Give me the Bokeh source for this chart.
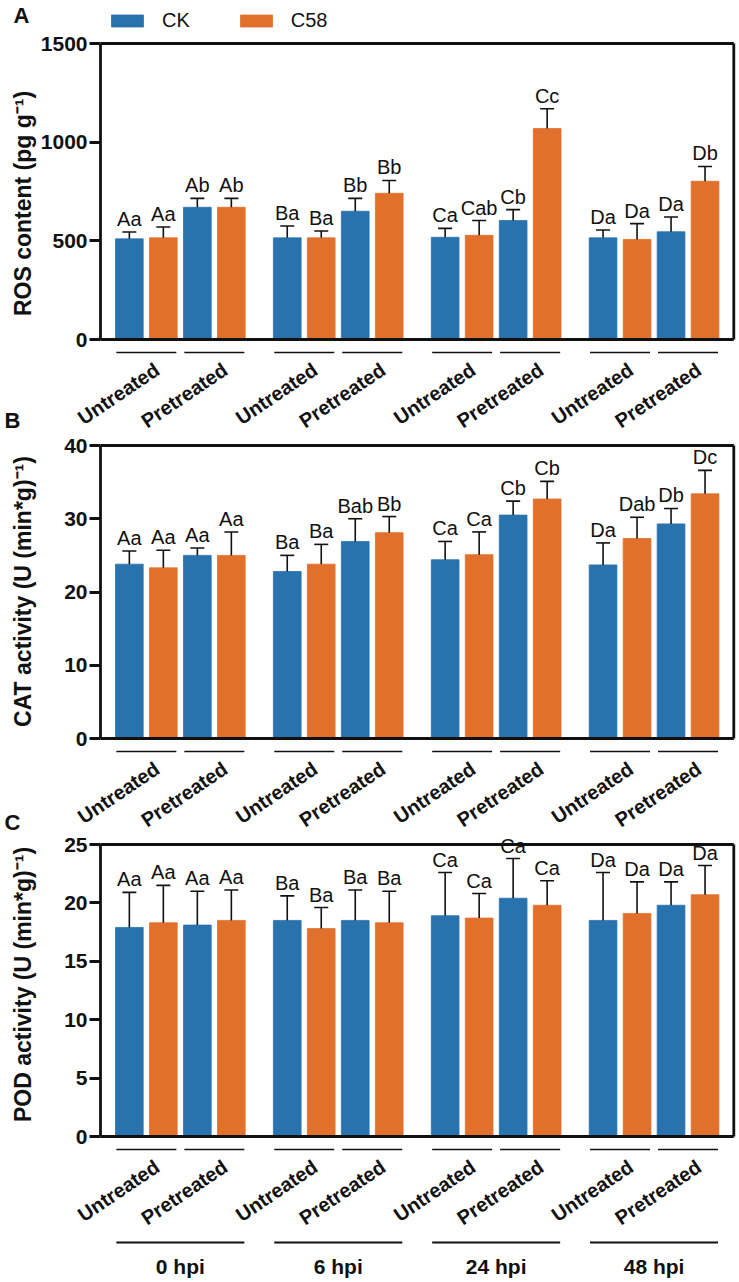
import numpy as np
from bokeh.plotting import figure
from bokeh.models import Range1d, FixedTicker, Legend, LegendItem
from bokeh.layouts import column
from bokeh.embed import file_html
from bokeh.resources import INLINE
from bokeh.core.properties import value

# ---------------- data ----------------
timepoints = ["0 hpi", "6 hpi", "24 hpi", "48 hpi"]
treatments = ["Untreated", "Pretreated"]
strains = ["CK", "C58"]

# order: for each timepoint -> Untreated(CK, C58), Pretreated(CK, C58)
ros_mean = [510, 515, 670, 670, 515, 515, 650, 741, 518, 528, 603, 1069, 515, 507, 546, 802]
ros_err = [35, 55, 45, 45, 60, 35, 65, 65, 45, 75, 55, 100, 40, 80, 75, 75]
ros_labels = ["Aa", "Aa", "Ab", "Ab", "Ba", "Ba", "Bb", "Bb",
              "Ca", "Cab", "Cb", "Cc", "Da", "Da", "Da", "Db"]

cat_mean = [23.8, 23.3, 25.0, 25.0, 22.8, 23.8, 26.9, 28.1,
            24.4, 25.1, 30.5, 32.7, 23.7, 27.3, 29.3, 33.4]
cat_err = [1.8, 2.4, 1.0, 3.2, 2.2, 2.7, 3.1, 2.2,
           2.5, 3.1, 1.9, 2.4, 3.0, 2.9, 2.1, 3.2]
cat_labels = ["Aa", "Aa", "Aa", "Aa", "Ba", "Ba", "Bab", "Bb",
              "Ca", "Ca", "Cb", "Cb", "Da", "Dab", "Db", "Dc"]

pod_mean = [17.9, 18.3, 18.1, 18.5, 18.5, 17.8, 18.5, 18.3,
            18.9, 18.7, 20.4, 19.8, 18.5, 19.1, 19.8, 20.7]
pod_err = [3.0, 3.2, 2.9, 2.6, 2.1, 1.8, 2.6, 2.7,
           3.7, 2.1, 3.4, 2.1, 4.1, 2.7, 2.0, 2.5]
pod_labels = ["Aa", "Aa", "Aa", "Aa", "Ba", "Ba", "Ba", "Ba",
              "Ca", "Ca", "Ca", "Ca", "Da", "Da", "Da", "Da"]

ros_ticks = [0, 500, 1000, 1500]
cat_ticks = [0, 10, 20, 30, 40]
pod_ticks = [0, 5, 10, 15, 20, 25]

# ---------------- style / layout ----------------
COL = {"CK": "#2872ae", "C58": "#e0702c"}
FONT = "Liberation Sans"
INK = "#111111"
FIG_W = 739
AX_X = 100                          # screen x of the y axis
PX = 34.0                           # px per x-unit (bar pitch)
X0 = (128.85 - AX_X) / PX           # first bar centre
GP = 157.9 / PX                     # group pitch
BW = 27.7 / PX                      # bar width
XR = (733.3 - AX_X) / PX            # right border
ANG = np.deg2rad(34)


def sx(px):
    return (px - AX_X) / PX


xs, pair_c, group_c = [], [], []
for g in range(len(timepoints)):
    gx = []
    for t in range(len(treatments)):
        pp = []
        for s in range(len(strains)):
            x = X0 + g * GP + (t * 2 + s) * 1.0
            xs.append(x); pp.append(x); gx.append(x)
        pair_c.append(sum(pp) / 2)
    group_c.append(sum(gx) / 4)
xs = np.array(xs)
is_ck = np.array([i % 2 == 0 for i in range(len(xs))])


def txt(p, x, y, t, size, bold=True, angle=0.0, align="center", baseline="middle"):
    p.text(x=x, y=y, text=t, angle=angle, text_align=align, text_baseline=baseline,
           text_font=value(FONT), text_font_style="bold" if bold else "normal",
           text_font_size=size, text_color=INK)


def panel(mean, err, labels, ticks, ytitle, fig_top, fig_bot, ytop_px, y0_px,
          title_c, show_hpi=False):
    ymax = ticks[-1]
    k = ymax / (y0_px - ytop_px)          # data units per px
    y_end = ymax + (ytop_px - fig_top) * k
    y_start = -(fig_bot - y0_px) * k

    def sy(py):
        return (y0_px - py) * k

    p = figure(width=FIG_W, height=fig_bot - fig_top, output_backend="svg",
               toolbar_location=None, x_axis_location=None,
               x_range=Range1d(sx(0), sx(FIG_W)), y_range=Range1d(y_start, y_end),
               min_border=0, min_border_left=0, min_border_right=0,
               min_border_top=0, min_border_bottom=0)
    p.outline_line_color = None
    p.grid.visible = False
    ax = p.yaxis[0]
    ax.fixed_location = 0
    ax.ticker = FixedTicker(ticks=ticks)
    ax.bounds = (0, ymax)
    ax.axis_line_width = 2.8
    ax.axis_line_color = INK
    ax.major_tick_line_width = 2.8
    ax.major_tick_line_color = INK
    ax.major_tick_out = 11
    ax.major_tick_in = 0
    ax.minor_tick_line_color = None
    ax.major_label_text_font = FONT
    ax.major_label_text_font_style = "bold"
    ax.major_label_text_font_size = "21px"
    ax.major_label_text_color = INK
    ax.major_label_standoff = 2

    mean = np.array(mean, dtype=float)
    err = np.array(err, dtype=float)
    top = mean + err
    rs = {}
    for name, mask in (("CK", is_ck), ("C58", ~is_ck)):
        rs[name] = p.vbar(x=xs[mask], top=mean[mask], bottom=0, width=BW,
                          fill_color=COL[name], line_color=COL[name], line_width=0.8)
    # error bars
    cw = 7 / PX
    p.segment(x0=xs, y0=mean, x1=xs, y1=top, line_color=INK, line_width=1.6)
    p.segment(x0=xs - cw, y0=top, x1=xs + cw, y1=top, line_color=INK, line_width=1.6)
    # significance letters
    p.text(x=xs, y=top, text=labels, text_align="center", text_baseline="bottom",
           y_offset=-2, text_font=value(FONT), text_font_size="20px", text_color=INK)
    # box (top, right, bottom)
    p.segment(x0=[0, XR, 0], y0=[ymax, 0, 0], x1=[XR, XR, XR], y1=[ymax, ymax, 0],
              line_color=INK, line_width=2.8)
    # treatment underlines + labels
    pc = np.array(pair_c)
    hl = 30 / PX
    uy = -13 * k
    p.segment(x0=pc - hl, y0=[uy] * len(pc), x1=pc + hl, y1=[uy] * len(pc),
              line_color=INK, line_width=1.6)
    txt(p, pc + 11 / PX, [-(13 + 15) * k] * len(pc),
        [treatments[i % 2] for i in range(len(pc))], "20px", angle=ANG, align="right")
    if show_hpi:
        gc = np.array(group_c)
        gl = 64 / PX
        gy = -106 * k
        p.segment(x0=gc - gl, y0=[gy] * 4, x1=gc + gl, y1=[gy] * 4,
                  line_color=INK, line_width=1.8)
        txt(p, gc, [-130 * k] * 4, timepoints, "21px")
    # y title
    txt(p, [sx(22)], [sy(title_c)], [ytitle], "23px", angle=np.pi / 2)
    return p, rs, sy


pA, rsA, syA = panel(ros_mean, ros_err, ros_labels, ros_ticks, "ROS content (pg g\u207b\u00b9)",
                     0, 432, 43, 339, 203)
pB, rsB, syB = panel(cat_mean, cat_err, cat_labels, cat_ticks, "CAT activity (U (min*g)\u207b\u00b9)",
                     432, 834, 445, 738, 591)
pC, rsC, syC = panel(pod_mean, pod_err, pod_labels, pod_ticks, "POD activity (U (min*g)\u207b\u00b9)",
                     834, 1282, 844, 1136, 984, show_hpi=True)

# legend
leg = Legend(items=[LegendItem(label="CK", renderers=[rsA["CK"]]),
                    LegendItem(label="C58", renderers=[rsA["C58"]])],
             location=(107, 432 - 32), orientation="horizontal", glyph_width=40, glyph_height=15,
             label_standoff=15, spacing=46, padding=0, margin=0,
             border_line_alpha=0, background_fill_alpha=0,
             label_text_font=FONT, label_text_font_size="20px", label_text_color=INK)
pA.add_layout(leg)

# panel letters
txt(pA, [sx(21)], [syA(15)], ["A"], "22px")
txt(pA, [sx(12)], [syA(420)], ["B"], "22px")
txt(pB, [sx(12)], [syB(822)], ["C"], "22px")

layout = column(pA, pB, pC)
open("out.html", "w").write(file_html(layout, INLINE))
